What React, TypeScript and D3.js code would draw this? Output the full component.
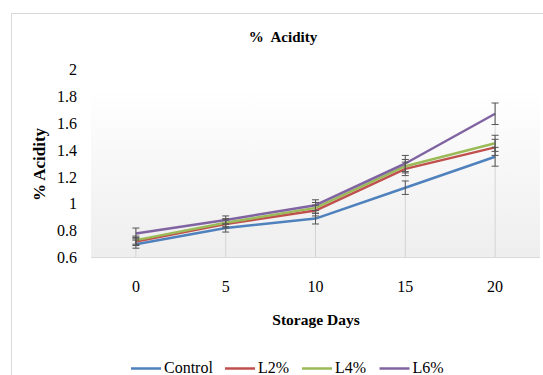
import React from "react";
import * as d3 from "d3";

const days = ["0", "5", "10", "15", "20"];
const seriesNames = ["Control", "L2%", "L4%", "L6%"];
const control = [0.7, 0.82, 0.89, 1.12, 1.35];
const l2 = [0.72, 0.85, 0.95, 1.26, 1.42];
const l4 = [0.73, 0.86, 0.97, 1.28, 1.45];
const l6 = [0.78, 0.88, 0.99, 1.3, 1.67];
const controlErr = [0.03, 0.03, 0.04, 0.05, 0.07];
const l2Err = [0.03, 0.03, 0.04, 0.05, 0.06];
const l4Err = [0.03, 0.03, 0.04, 0.05, 0.06];
const l6Err = [0.04, 0.03, 0.04, 0.06, 0.08];
const yTicks = [0.6, 0.8, 1, 1.2, 1.4, 1.6, 1.8, 2];
const colors = ["#4f81bd", "#c0504d", "#9bbb59", "#8064a2"];

const W = 543;
const H = 375;
const left = 91;
const right = 540;
const top = 69.4;
const bottom = 257.6;

export default function App() {
  const x = d3.scaleBand<string>().domain(days).range([left, right]);
  const y = d3.scaleLinear().domain([0.6, 2]).range([bottom, top]);
  const values = [control, l2, l4, l6];
  const errs = [controlErr, l2Err, l4Err, l6Err];
  const cx = (d: string) => (x(d) ?? 0) + x.bandwidth() / 2;
  const line = d3
    .line<number>()
    .x((_, i) => cx(days[i]))
    .y((v) => y(v));
  const serif = { fontFamily: "Liberation Serif" };
  const legendX = [131, 225, 302, 379.5];

  return (
    <svg width={W} height={H} style={{ position: "absolute", left: 0, top: 0 }}>
      <defs>
        <linearGradient id="bg" x1="0" y1="0" x2="0" y2="1">
          <stop offset="0" stopColor="#ffffff" />
          <stop offset="1" stopColor="#eeeeee" />
        </linearGradient>
      </defs>
      <rect x={0} y={0} width={W} height={H} fill="#fff" />
      <rect x={11.5} y={13.5} width={W} height={H} fill="none" stroke="#d9d9d9" />
      <rect x={left} y={88} width={right - left} height={bottom - 88} fill="url(#bg)" />
      {days.map((d, i) => {
        const maxV = d3.max(values.map((s, k) => s[i] + errs[k][i])) as number;
        return (
          <line
            key={"drop" + d}
            x1={cx(d)}
            x2={cx(d)}
            y1={bottom}
            y2={y(maxV)}
            stroke="#d4d4d4"
            strokeWidth={1}
          />
        );
      })}
      <line x1={left} x2={right} y1={bottom} y2={bottom} stroke="#d9d9d9" strokeWidth={1} />
      {yTicks.map((t) => (
        <text
          key={"yt" + t}
          x={77}
          y={y(t)}
          dy="0.35em"
          textAnchor="end"
          fontSize={16}
          fill="#000"
          style={serif}
        >
          {d3.format("~g")(t)}
        </text>
      ))}
      {days.map((d) => (
        <text
          key={"xt" + d}
          x={cx(d)}
          y={286}
          dy="0.35em"
          textAnchor="middle"
          fontSize={16}
          fill="#000"
          style={serif}
        >
          {d}
        </text>
      ))}
      {values.map((s, k) => (
        <path
          key={"l" + k}
          d={line(s) ?? ""}
          fill="none"
          stroke={colors[k]}
          strokeWidth={2.5}
          strokeLinejoin="round"
        />
      ))}
      {values.map((s, k) =>
        s.map((v, i) => {
          const px = cx(days[i]);
          const y1 = y(v - errs[k][i]);
          const y2 = y(v + errs[k][i]);
          return (
            <g key={"e" + k + "-" + i} stroke="#555" strokeWidth={1}>
              <line x1={px} x2={px} y1={y1} y2={y2} />
              <line x1={px - 3.5} x2={px + 3.5} y1={y1} y2={y1} />
              <line x1={px - 3.5} x2={px + 3.5} y1={y2} y2={y2} />
            </g>
          );
        })
      )}
      <text
        x={283}
        y={36.5}
        dy="0.35em"
        textAnchor="middle"
        fontSize={15}
        fontWeight="bold"
        style={{ ...serif, whiteSpace: "pre" }}
      >
        {"%  Acidity"}
      </text>
      <text
        transform={`translate(39,${164.5}) rotate(-90)`}
        dy="0.35em"
        textAnchor="middle"
        fontSize={17}
        fontWeight="bold"
        style={serif}
      >
        % Acidity
      </text>
      <text
        x={316}
        y={320}
        dy="0.35em"
        textAnchor="middle"
        fontSize={15.5}
        fontWeight="bold"
        style={serif}
      >
        Storage Days
      </text>
      {seriesNames.map((n, k) => (
        <g key={"lg" + n}>
          <line
            x1={legendX[k]}
            x2={legendX[k] + 30}
            y1={368.5}
            y2={368.5}
            stroke={colors[k]}
            strokeWidth={2.5}
          />
          <text x={legendX[k] + 33} y={368} dy="0.32em" fontSize={16} style={serif}>
            {n}
          </text>
        </g>
      ))}
    </svg>
  );
}
